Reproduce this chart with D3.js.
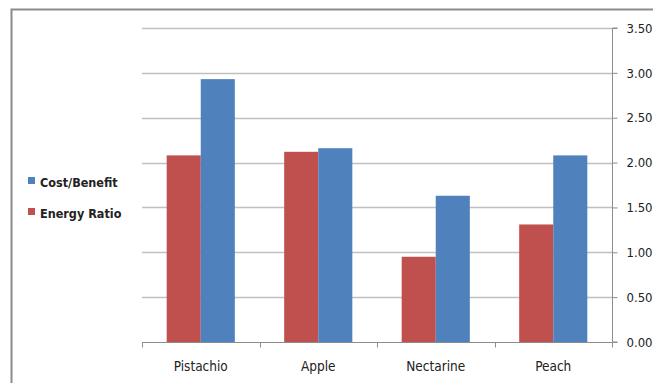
<!DOCTYPE html>
<html>
<head>
<meta charset="utf-8">
<script src="https://cdn.jsdelivr.net/npm/d3@7"></script>
<style>
  body { margin: 0; background: #fff; }
  text { font-family: "Liberation Sans Narrow", "DejaVu Sans Condensed", sans-serif; fill: #222; }
</style>
</head>
<body>
<div class="canva"></div>
<script>
var categories = ["Pistachio", "Apple", "Nectarine", "Peach"];
var energyRatio = [2.08, 2.12, 0.95, 1.31];
var costBenefit = [2.93, 2.16, 1.63, 2.08];
var yTicks = [0, 0.5, 1, 1.5, 2, 2.5, 3, 3.5];

var series = [
  {name: "Energy Ratio", values: energyRatio, color: "#C0504D"},
  {name: "Cost/Benefit", values: costBenefit, color: "#4F81BD"}
];

const svg = d3.select(".canva").append("svg")
    .attr("width", 653)
    .attr("height", 383);

// outer frame
svg.append("path")
    .attr("d", "M11.5,383 V9.5 H653")
    .attr("fill", "none")
    .attr("stroke", "#8c8c8c")
    .attr("stroke-width", 2);

const margin = {top: 28, right: 41, bottom: 41, left: 142};
const graphWidth = 653 - margin.left - margin.right;
const graphHeight = 383 - margin.top - margin.bottom;

const g = svg.append("g")
    .attr("transform", `translate(${margin.left}, ${margin.top})`);

var x = d3.scaleBand()
    .domain(categories)
    .range([0, graphWidth])
    .paddingInner(0.42)
    .paddingOuter(0.21);

var x1 = d3.scaleBand()
    .domain(series.map(d => d.name))
    .range([0, x.bandwidth()]);

var y = d3.scaleLinear()
    .domain([0, 3.5])
    .range([graphHeight, 0]);

// gridlines
g.selectAll(".grid")
    .data(yTicks.slice(1))
    .enter().append("line")
    .attr("x1", 0)
    .attr("x2", graphWidth)
    .attr("y1", d => Math.round(y(d)) + 0.5)
    .attr("y2", d => Math.round(y(d)) + 0.5)
    .attr("stroke", "#c0c0c0")
    .attr("stroke-width", 1.5);

// bars
series.forEach(function(s) {
  g.selectAll(".bar-" + s.name.replace(/\W/g, ""))
    .data(s.values)
    .enter().append("rect")
    .attr("x", (d, i) => x(categories[i]) + x1(s.name))
    .attr("y", d => y(d))
    .attr("width", x1.bandwidth())
    .attr("height", d => graphHeight - y(d))
    .attr("fill", s.color);
});

// right y axis
var yAxis = d3.axisRight(y)
    .tickValues(yTicks)
    .tickSize(5)
    .tickPadding(9)
    .tickFormat(d3.format(".2f"));

var ya = g.append("g")
    .attr("transform", `translate(${graphWidth + 0.5}, 0)`)
    .call(yAxis);
ya.selectAll("line, path").attr("stroke", "#8c8c8c");
ya.select(".domain").attr("d", `M5,${y(3.5)}H0V${graphHeight}H5`);
ya.selectAll("text").style("font-size", "13px").attr("fill", "#222");

// bottom x axis: ticks at category boundaries
var boundaries = d3.range(categories.length + 1).map(i => i * x.step() - x.step() * x.paddingInner() / 2 + x.step() * x.paddingOuter());
var xa = g.append("g").attr("transform", `translate(0, ${graphHeight + 0.5})`);
xa.append("line")
    .attr("x1", 0).attr("x2", graphWidth)
    .attr("stroke", "#8c8c8c");
xa.selectAll(".tick")
    .data(boundaries)
    .enter().append("line")
    .attr("x1", d => Math.round(d) + 0.5)
    .attr("x2", d => Math.round(d) + 0.5)
    .attr("y1", 0).attr("y2", 5)
    .attr("stroke", "#8c8c8c");
xa.selectAll(".lbl")
    .data(categories)
    .enter().append("text")
    .attr("x", d => x(d) + x.bandwidth() / 2)
    .attr("y", 28)
    .attr("text-anchor", "middle")
    .style("font-size", "13.5px")
    .text(d => d);

// legend
var legendItems = [series[1], series[0]];
var legend = svg.selectAll(".legend")
    .data(legendItems)
    .enter().append("g")
    .attr("transform", (d, i) => `translate(28, ${177 + i * 31})`);
legend.append("rect")
    .attr("width", 7).attr("height", 7)
    .attr("fill", d => d.color);
legend.append("text")
    .attr("x", 12).attr("y", 9.5)
    .style("font-size", "12.5px")
    .style("font-weight", "bold")
    .text(d => d.name);
</script>
</body>
</html>
